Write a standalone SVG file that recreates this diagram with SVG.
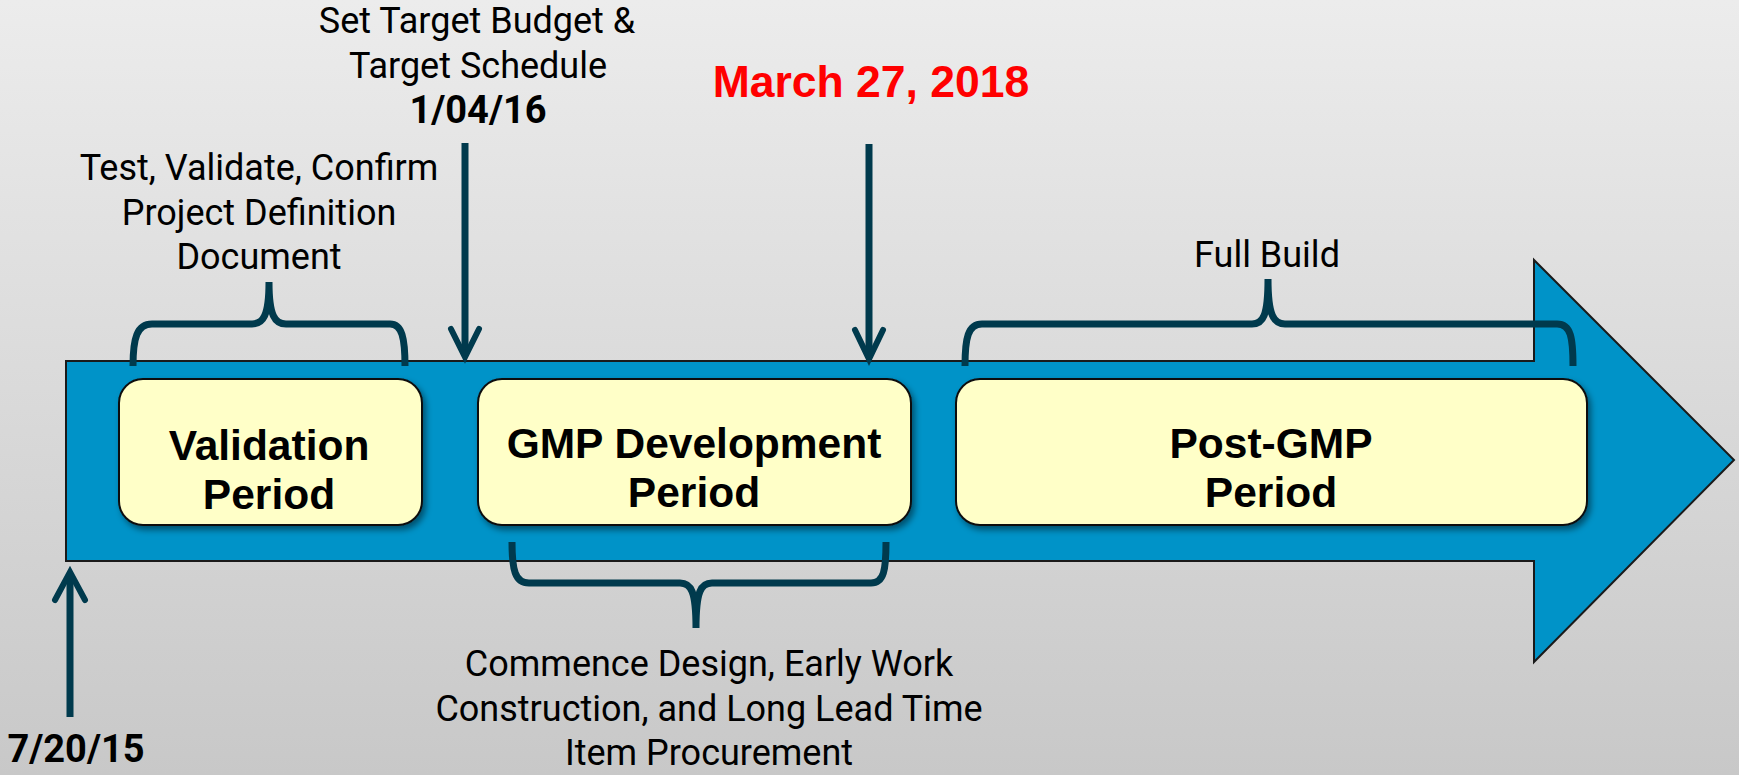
<svg xmlns="http://www.w3.org/2000/svg" width="1739" height="775" viewBox="0 0 1739 775">
<defs>
<linearGradient id="bg" x1="0" y1="0" x2="0" y2="1">
<stop offset="0" stop-color="#ececec"/>
<stop offset="1" stop-color="#c8c8c8"/>
</linearGradient>
<filter id="sh" x="-10%" y="-10%" width="130%" height="140%">
<feDropShadow dx="3" dy="4" stdDeviation="3" flood-color="#000" flood-opacity="0.45"/>
</filter>
<style>
.box{fill:#ffffc8;stroke:#111;stroke-width:2;filter:url(#sh)}
.bt{font-family:"Liberation Sans",Arial,sans-serif;font-weight:bold;font-size:42.5px;fill:#000;text-anchor:middle}
.lbl{font-family:Roboto,"Noto Sans",sans-serif;font-size:36px;fill:#000;text-anchor:middle}
.date{font-family:Roboto,"Noto Sans",sans-serif;font-weight:bold;font-size:38px;fill:#000;text-anchor:middle}
.red{font-family:"Liberation Sans",Arial,sans-serif;font-weight:bold;font-size:44.5px;fill:#ff0000;text-anchor:middle}
.ln{fill:none;stroke:#003a4d;stroke-width:7;stroke-linecap:butt}
.hd{fill:none;stroke:#003a4d;stroke-width:6;stroke-linecap:round;stroke-linejoin:miter}
</style>
</defs>
<rect width="1739" height="775" fill="url(#bg)"/>
<g id="timeline">
<polygon points="66,361 1534,361 1534,260 1734,460 1534,662 1534,561 66,561" fill="#0093c8" stroke="#1a1a1a" stroke-width="2"/>
</g>
<g id="validation">
<rect class="box" x="119" y="379" width="303" height="146" rx="24"/>
<text class="bt" x="269" y="460">Validation</text>
<text class="bt" x="269" y="509">Period</text>
</g>
<g id="gmp-development">
<rect class="box" x="478" y="379" width="433" height="146" rx="24"/>
<text class="bt" x="694" y="458">GMP Development</text>
<text class="bt" x="694" y="507">Period</text>
</g>
<g id="post-gmp">
<rect class="box" x="956" y="379" width="631" height="146" rx="24"/>
<text class="bt" x="1271" y="458">Post-GMP</text>
<text class="bt" x="1271" y="507">Period</text>
</g>
<g id="connectors">
<path class="ln" d="M133,366 C133,338 137,324 152,324 L252,324 C263,324 269,316 269,282 C269,316 275,324 286,324 L390,324 C402,324 405,338 405,366"/>
<path class="ln" d="M965,366 C965,338 968,324 982,324 L1252,324 C1263,324 1268,316 1268,279 C1268,316 1274,324 1285,324 L1557,324 C1571,324 1573,338 1573,366"/>
<path class="ln" d="M512,542 C512,570 515,583 529,583 L680,583 C691,583 696,591 696,628 C696,591 701,583 712,583 L871,583 C884,583 886,570 886,542"/>
<line class="ln" x1="465" y1="143" x2="465" y2="352"/>
<polyline class="hd" points="451,329 465,357 479,329"/>
<line class="ln" x1="869" y1="144" x2="869" y2="354"/>
<polyline class="hd" points="855,330 869,359 883,330"/>
<line class="ln" x1="70" y1="717" x2="70" y2="576"/>
<polyline class="hd" points="55,600 70,572 85,600"/>
</g>
<g id="labels">
<text class="lbl" x="477" y="33">Set Target Budget &amp;</text>
<text class="lbl" x="478" y="78">Target Schedule</text>
<text class="date" x="478" y="123">1/04/16</text>
<text class="red" x="871" y="97">March 27, 2018</text>
<text class="lbl" x="259" y="180">Test, Validate, Confirm</text>
<text class="lbl" x="259" y="225">Project Definition</text>
<text class="lbl" x="259" y="269">Document</text>
<text class="lbl" x="1267" y="267">Full Build</text>
<text class="lbl" x="709" y="676">Commence Design, Early Work</text>
<text class="lbl" x="709" y="721">Construction, and Long Lead Time</text>
<text class="lbl" x="709" y="765">Item Procurement</text>
<text class="date" x="76" y="762">7/20/15</text>
</g>
</svg>
